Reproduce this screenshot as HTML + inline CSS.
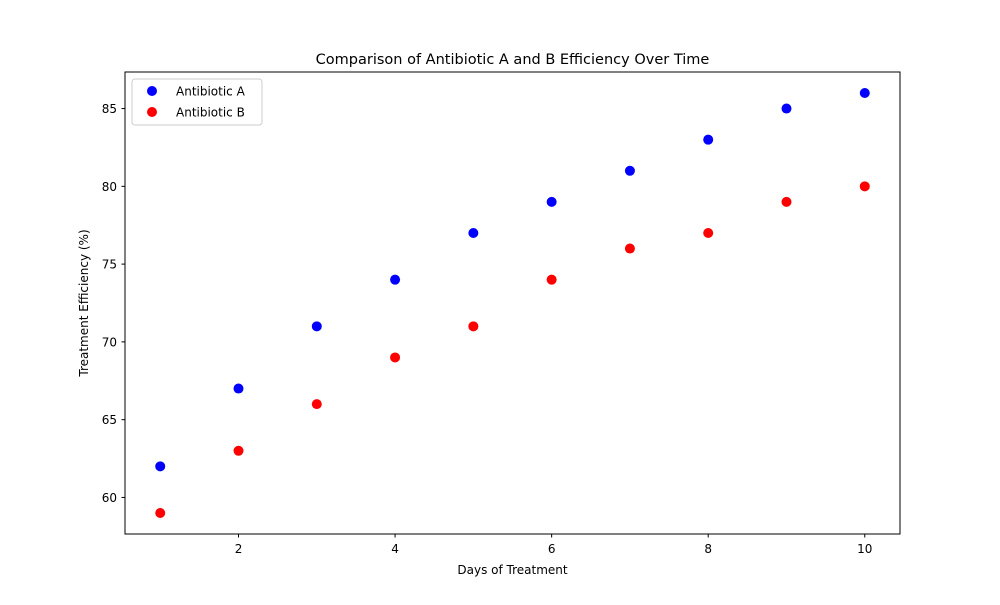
<!DOCTYPE html>
<html><head><meta charset="utf-8"><style>
body{margin:0;background:#fff;font-family:"Liberation Sans","DejaVu Sans",sans-serif}
</style></head><body>
<svg id="chart" width="1000" height="600" xmlns="http://www.w3.org/2000/svg" font-family="DejaVu Sans, Liberation Sans, sans-serif">
<rect width="1000" height="600" fill="#fff"/>
<text x="512.5" y="64" text-anchor="middle" font-size="14.5">Comparison of Antibiotic A and B Efficiency Over Time</text>
<text x="512.5" y="574" text-anchor="middle" font-size="12">Days of Treatment</text>
<text transform="translate(88,303) rotate(-90)" text-anchor="middle" font-size="12">Treatment Efficiency (%)</text>
<g id="ticks"></g>
<g id="marks"></g>
<rect x="125" y="72" width="775" height="462" fill="none" stroke="#000" stroke-width="1"/>
<g>
<rect x="132" y="79" width="130" height="46" fill="#fff" stroke="#ccc" rx="3"/>
<circle cx="152" cy="91" r="5" fill="#0000ff"/>
<text x="176" y="95.5" font-size="12">Antibiotic A</text>
<circle cx="152" cy="112" r="5" fill="#ff0000"/>
<text x="176" y="116.5" font-size="12">Antibiotic B</text>
</g>
</svg>
<script>
const days=[1,2,3,4,5,6,7,8,9,10];
const seriesA=[62,67,71,74,77,79,81,83,85,86];
const seriesB=[59,63,66,69,71,74,76,77,79,80];
const xTicks=[2,4,6,8,10];
const yTicks=[60,65,70,75,80,85];
const NS="http://www.w3.org/2000/svg";
const all=seriesA.concat(seriesB);
const xmin=Math.min(...days),xmax=Math.max(...days),xm=(xmax-xmin)*0.05;
const ymin=Math.min(...all),ymax=Math.max(...all),ymg=(ymax-ymin)*0.05;
const X=v=>125+(v-(xmin-xm))/((xmax-xmin)+2*xm)*775;
const Y=v=>534-(v-(ymin-ymg))/((ymax-ymin)+2*ymg)*462;
function mk(t,a,p){const e=document.createElementNS(NS,t);for(const k in a)e.setAttribute(k,a[k]);p.appendChild(e);return e;}
const tg=document.getElementById('ticks');
xTicks.forEach(v=>{
 const l=mk('line',{x1:X(v),x2:X(v),y1:534,y2:537.5,stroke:'#000'},tg);
 
 
 const t=mk('text',{x:X(v),y:553,'text-anchor':'middle','font-size':12},tg);t.textContent=v;
 
 
});
yTicks.forEach(v=>{
 const l=mk('line',{x1:121.5,x2:125,y1:Y(v),y2:Y(v),stroke:'#000'},tg);
 
 
 const t=mk('text',{x:117,y:Y(v)+4.5,'text-anchor':'end','font-size':12},tg);t.textContent=v;
 
 
});
const mg=document.getElementById('marks');
days.forEach((d,i)=>{
 const a=mk('circle',{cx:X(d),cy:Y(seriesA[i]),r:5,fill:'#0000ff'},mg);
 
 
});
days.forEach((d,i)=>{
 const b=mk('circle',{cx:X(d),cy:Y(seriesB[i]),r:5,fill:'#ff0000'},mg);
 
 
});
</script>
</body></html>
